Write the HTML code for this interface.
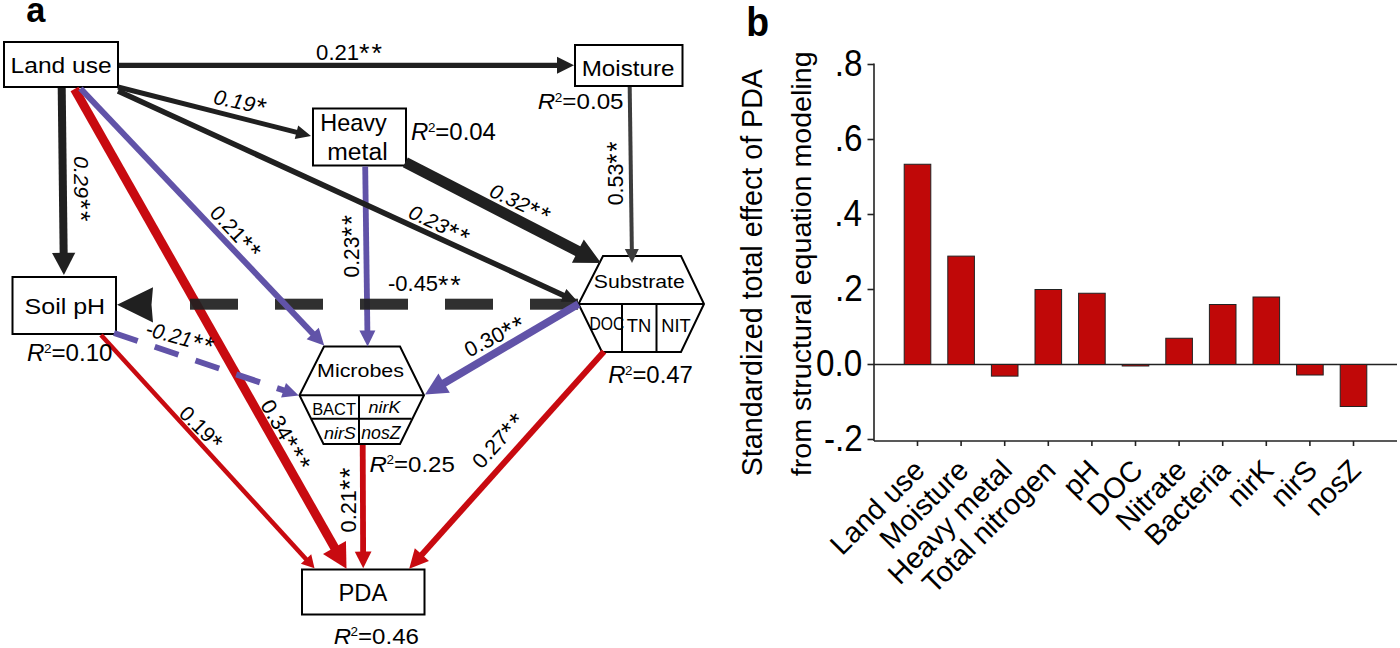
<!DOCTYPE html>
<html><head><meta charset="utf-8"><style>
html,body{margin:0;padding:0;background:#fff;}
svg{display:block;font-family:"Liberation Sans", sans-serif;}
</style></head><body>
<svg width="1400" height="648" viewBox="0 0 1400 648">
<rect width="1400" height="648" fill="#fff"/>
<text transform="translate(26.37,21.60) scale(0.9931,1)" font-size="34.60" font-weight="bold" fill="#000">a</text>
<rect x="4.0" y="42.0" width="114" height="45" fill="#fff" stroke="#000" stroke-width="2"/>
<rect x="575.0" y="45.0" width="107.5" height="41" fill="#fff" stroke="#000" stroke-width="2"/>
<rect x="313.0" y="108.5" width="93" height="57.0" fill="#fff" stroke="#000" stroke-width="2"/>
<rect x="12.5" y="277.0" width="103.5" height="57" fill="#fff" stroke="#000" stroke-width="2"/>
<rect x="302.0" y="569.5" width="122.5" height="45.0" fill="#fff" stroke="#000" stroke-width="2"/>
<polygon points="603,256 681,256 704,304 681,352 602,352 578.5,304" fill="#fff" stroke="#000" stroke-width="2" stroke-linejoin="miter"/>
<line x1="578.00" y1="304.00" x2="704.00" y2="304.00" stroke="#000" stroke-width="2"/>
<line x1="622.00" y1="304.00" x2="622.00" y2="352.00" stroke="#000" stroke-width="2"/>
<line x1="656.50" y1="304.00" x2="656.50" y2="352.00" stroke="#000" stroke-width="2"/>
<polygon points="324,346.5 400,346.5 424,395.3 400,444 323.5,444 299.5,395.3" fill="#fff" stroke="#000" stroke-width="2" stroke-linejoin="miter"/>
<line x1="299.50" y1="395.30" x2="424.00" y2="395.30" stroke="#000" stroke-width="2"/>
<line x1="311.50" y1="418.80" x2="411.50" y2="418.80" stroke="#000" stroke-width="2"/>
<line x1="359.00" y1="395.00" x2="359.00" y2="444.00" stroke="#000" stroke-width="2"/>
<line x1="74.50" y1="89.00" x2="335.20" y2="548.78" stroke="#c80a10" stroke-width="9"/>
<polygon points="346.50,568.70 322.98,553.99 334.46,547.47 345.95,540.96" fill="#c80a10"/>
<line x1="101.00" y1="335.00" x2="307.07" y2="560.19" stroke="#c80a10" stroke-width="4.6"/>
<polygon points="314.50,568.30 300.90,563.80 306.06,559.08 311.23,554.35" fill="#c80a10"/>
<line x1="362.70" y1="445.00" x2="363.14" y2="553.10" stroke="#c80a10" stroke-width="5.8"/>
<polygon points="363.20,568.30 354.78,551.63 363.13,551.60 371.48,551.57" fill="#c80a10"/>
<line x1="604.00" y1="351.50" x2="420.88" y2="555.67" stroke="#c80a10" stroke-width="6"/>
<polygon points="409.20,568.70 414.81,548.21 421.89,554.56 428.96,560.90" fill="#c80a10"/>
<line x1="365.20" y1="166.50" x2="367.41" y2="332.00" stroke="#6153a8" stroke-width="5.8"/>
<polygon points="367.60,346.50 359.39,330.61 367.39,330.50 375.39,330.39" fill="#6153a8"/>
<line x1="119.00" y1="65.30" x2="558.50" y2="65.30" stroke="#202020" stroke-width="5.3"/>
<polygon points="574.00,65.30 557.00,73.80 557.00,65.30 557.00,56.80" fill="#202020"/>
<line x1="118.00" y1="87.00" x2="297.92" y2="132.68" stroke="#202020" stroke-width="5"/>
<polygon points="311.00,136.00 294.74,139.09 296.46,132.31 298.18,125.52" fill="#202020"/>
<line x1="118.00" y1="91.00" x2="564.82" y2="295.95" stroke="#202020" stroke-width="5.5"/>
<polygon points="578.00,302.00 560.54,301.69 563.46,295.33 566.38,288.97" fill="#202020"/>
<line x1="405.30" y1="162.40" x2="579.21" y2="251.80" stroke="#202020" stroke-width="11"/>
<polygon points="601.00,263.00 571.93,262.68 577.88,251.11 583.82,239.55" fill="#202020"/>
<line x1="629.70" y1="87.00" x2="631.84" y2="250.50" stroke="#3d3d3d" stroke-width="4"/>
<polygon points="632.00,263.00 624.82,249.09 631.82,249.00 638.82,248.91" fill="#3d3d3d"/>
<line x1="61.70" y1="88.00" x2="63.66" y2="254.30" stroke="#202020" stroke-width="8"/>
<polygon points="63.90,275.00 51.99,252.94 63.64,252.80 75.29,252.66" fill="#202020"/>
<rect x="190" y="298.7" width="48" height="11" fill="#202020" fill-opacity="0.93"/>
<rect x="275" y="298.7" width="48" height="11" fill="#202020" fill-opacity="0.93"/>
<rect x="360" y="298.7" width="48" height="11" fill="#202020" fill-opacity="0.93"/>
<rect x="445" y="298.7" width="48" height="11" fill="#202020" fill-opacity="0.93"/>
<rect x="530" y="298.7" width="48" height="11" fill="#202020" fill-opacity="0.93"/>
<polygon points="117,304.8 153,287.3 151.5,304.8 153,322.5" fill="#202020"/>
<line x1="80.50" y1="88.50" x2="313.74" y2="334.57" stroke="#6153a8" stroke-width="6"/>
<polygon points="324.20,345.60 306.65,339.22 312.71,333.48 318.77,327.74" fill="#6153a8"/>
<line x1="114.00" y1="333.00" x2="284.96" y2="390.76" stroke="#6153a8" stroke-width="6" stroke-dasharray="25 18" stroke-dashoffset="0"/>
<polygon points="298.70,395.40 281.09,397.53 283.54,390.28 285.99,383.03" fill="#6153a8"/>
<line x1="578.50" y1="304.00" x2="442.84" y2="383.90" stroke="#6153a8" stroke-width="7.8"/>
<polygon points="425.00,394.40 438.45,373.48 444.13,383.13 449.81,392.79" fill="#6153a8"/>
<text transform="translate(10.57,73.00) scale(1.0865,1)" font-size="22.62" fill="#000">Land use</text>
<text transform="translate(581.70,76.10) scale(1.0696,1)" font-size="22.62" fill="#000">Moisture</text>
<text transform="translate(320.26,130.80) scale(0.9893,1)" font-size="23.71" fill="#000">Heavy</text>
<text transform="translate(327.33,160.00) scale(1.0107,1)" font-size="24.41" fill="#000">metal</text>
<text transform="translate(24.58,314.10) scale(1.0913,1)" font-size="22.90" fill="#000">Soil pH</text>
<text transform="translate(338.54,600.50) scale(1.0132,1)" font-size="23.42" fill="#000">PDA</text>
<text transform="translate(593.84,287.60) scale(1.1085,1)" font-size="19.17" fill="#000">Substrate</text>
<text transform="translate(589.51,329.80) scale(0.8974,1)" font-size="17.49" fill="#000">DOC</text>
<text transform="translate(626.79,331.50) scale(0.9967,1)" font-size="18.47" fill="#000">TN</text>
<text transform="translate(661.29,331.50) scale(0.9892,1)" font-size="18.47" fill="#000">NIT</text>
<text transform="translate(317.03,377.00) scale(1.1186,1)" font-size="19.17" fill="#000">Microbes</text>
<text transform="translate(312.14,415.40) scale(0.9582,1)" font-size="17.20" fill="#000">BACT</text>
<text transform="translate(368.59,413.30) scale(1.1393,1)" font-size="15.72" font-style="italic" fill="#000">nirK</text>
<text transform="translate(323.88,439.20) scale(1.0524,1)" font-size="17.10" font-style="italic" fill="#000">nirS</text>
<text transform="translate(361.19,439.20) scale(0.9835,1)" font-size="18.04" font-style="italic" fill="#000">nosZ</text>
<g transform="translate(537.87,108.90) scale(1.1158,1)" fill="#000"><text x="0" y="0" font-size="21.67" font-style="italic">R</text><text x="15.22" y="-7.15" font-size="12.14">2</text><text x="21.97" y="0" font-size="21.67">=0.05</text></g>
<g transform="translate(411.08,140.00) scale(1.0292,1)" fill="#000"><text x="0" y="0" font-size="23.27" font-style="italic">R</text><text x="16.34" y="-7.68" font-size="13.03">2</text><text x="23.59" y="0" font-size="23.27">=0.04</text></g>
<g transform="translate(26.98,361.00) scale(1.0180,1)" fill="#000"><text x="0" y="0" font-size="23.71" font-style="italic">R</text><text x="16.65" y="-7.82" font-size="13.28">2</text><text x="24.03" y="0" font-size="23.71">=0.10</text></g>
<g transform="translate(608.18,382.60) scale(1.0145,1)" fill="#000"><text x="0" y="0" font-size="23.56" font-style="italic">R</text><text x="16.55" y="-7.78" font-size="13.20">2</text><text x="23.89" y="0" font-size="23.56">=0.47</text></g>
<g transform="translate(369.58,471.90) scale(1.0675,1)" fill="#000"><text x="0" y="0" font-size="22.55" font-style="italic">R</text><text x="15.83" y="-7.44" font-size="12.63">2</text><text x="22.85" y="0" font-size="22.55">=0.25</text></g>
<g transform="translate(333.68,643.50) scale(1.1099,1)" fill="#000"><text x="0" y="0" font-size="21.67" font-style="italic">R</text><text x="15.22" y="-7.15" font-size="12.14">2</text><text x="21.97" y="0" font-size="21.67">=0.46</text></g>
<text transform="translate(316.12,59.90) scale(1.0216,1)" font-size="21.63" fill="#000">0.21<tspan font-size="1.22em" dy="0.098em" letter-spacing="0.066em">**</tspan></text>
<text transform="translate(213.30,103.60) rotate(12) scale(1.0166,1) translate(-0.90,0)" font-size="21.20" font-style="italic" fill="#000">0.19<tspan font-size="1.22em" dy="0.098em" letter-spacing="0.066em">*</tspan></text>
<text transform="translate(407.80,217.30) rotate(25.5) scale(1.0368,1) translate(-0.87,0)" font-size="20.49" font-style="italic" fill="#000">0.23<tspan font-size="1.22em" dy="0.098em" letter-spacing="0.066em">**</tspan></text>
<text transform="translate(488.70,196.10) rotate(25) scale(1.0368,1) translate(-0.87,0)" font-size="20.49" font-style="italic" fill="#000">0.32<tspan font-size="1.22em" dy="0.098em" letter-spacing="0.066em">**</tspan></text>
<text transform="translate(623.20,204.50) rotate(-90) scale(0.9724,1) translate(-0.88,0)" font-size="22.05" fill="#000">0.53<tspan font-size="1.22em" dy="0.098em" letter-spacing="0.066em">**</tspan></text>
<text transform="translate(74.30,156.80) rotate(90) scale(1.0351,1) translate(-0.89,0)" font-size="20.92" font-style="italic" fill="#000">0.29<tspan font-size="1.22em" dy="0.098em" letter-spacing="0.066em">**</tspan></text>
<text transform="translate(388.01,291.30) scale(1.0094,1)" font-size="21.77" fill="#000">-0.45<tspan font-size="1.22em" dy="0.098em" letter-spacing="0.066em">**</tspan></text>
<text transform="translate(209.20,214.30) rotate(47) scale(1.0032,1) translate(-0.85,0)" font-size="21.20" fill="#000">0.21<tspan font-size="1.22em" dy="0.098em" letter-spacing="0.066em">**</tspan></text>
<text transform="translate(358.50,276.60) rotate(-90) scale(0.9268,1) translate(-0.90,0)" font-size="22.61" fill="#000">0.23<tspan font-size="1.22em" dy="0.098em" letter-spacing="0.066em">**</tspan></text>
<text transform="translate(145.50,335.60) rotate(15) scale(0.9749,1) translate(-1.11,0)" font-size="21.20" font-style="italic" fill="#000">-0.21<tspan font-size="1.22em" dy="0.098em" letter-spacing="0.066em">**</tspan></text>
<text transform="translate(469.70,357.30) rotate(-27) scale(1.0194,1) translate(-0.85,0)" font-size="21.20" fill="#000">0.30<tspan font-size="1.22em" dy="0.098em" letter-spacing="0.066em">**</tspan></text>
<text transform="translate(178.30,415.40) rotate(45) scale(0.9982,1) translate(-0.85,0)" font-size="21.20" fill="#000">0.19<tspan font-size="1.22em" dy="0.098em" letter-spacing="0.066em">*</tspan></text>
<text transform="translate(260.30,405.70) rotate(60) scale(1.0330,1) translate(-0.85,0)" font-size="21.20" fill="#000">0.34<tspan font-size="1.22em" dy="0.098em" letter-spacing="0.066em">***</tspan></text>
<text transform="translate(355.90,531.60) rotate(-90) scale(0.9648,1) translate(-0.90,0)" font-size="22.61" fill="#000">0.21<tspan font-size="1.22em" dy="0.098em" letter-spacing="0.066em">**</tspan></text>
<text transform="translate(482.10,469.30) rotate(-48) scale(1.0356,1) translate(-0.85,0)" font-size="21.20" fill="#000">0.27<tspan font-size="1.22em" dy="0.098em" letter-spacing="0.066em">**</tspan></text>
<text transform="translate(746.17,36.00) scale(0.9105,1)" font-size="41.10" font-weight="bold" fill="#000">b</text>
<g stroke="#222" stroke-width="1.6">
<line x1="874" y1="63.5" x2="874" y2="441"/>
<line x1="874" y1="441" x2="1397" y2="441"/>
<line x1="874" y1="364.5" x2="1397" y2="364.5"/>
<line x1="867.5" y1="64.50" x2="874" y2="64.50"/>
<line x1="867.5" y1="139.50" x2="874" y2="139.50"/>
<line x1="867.5" y1="214.50" x2="874" y2="214.50"/>
<line x1="867.5" y1="289.50" x2="874" y2="289.50"/>
<line x1="867.5" y1="364.50" x2="874" y2="364.50"/>
<line x1="867.5" y1="439.50" x2="874" y2="439.50"/>
<line x1="917.50" y1="441" x2="917.50" y2="446"/>
<line x1="961.10" y1="441" x2="961.10" y2="446"/>
<line x1="1004.70" y1="441" x2="1004.70" y2="446"/>
<line x1="1048.30" y1="441" x2="1048.30" y2="446"/>
<line x1="1091.90" y1="441" x2="1091.90" y2="446"/>
<line x1="1135.50" y1="441" x2="1135.50" y2="446"/>
<line x1="1179.10" y1="441" x2="1179.10" y2="446"/>
<line x1="1222.70" y1="441" x2="1222.70" y2="446"/>
<line x1="1266.30" y1="441" x2="1266.30" y2="446"/>
<line x1="1309.90" y1="441" x2="1309.90" y2="446"/>
<line x1="1353.50" y1="441" x2="1353.50" y2="446"/>
</g>
<text transform="translate(834.70,76.10) scale(0.92,1)" font-size="36.18" fill="#000">.8</text>
<text transform="translate(834.70,151.10) scale(0.92,1)" font-size="36.18" fill="#000">.6</text>
<text transform="translate(834.20,226.10) scale(0.92,1)" font-size="36.18" fill="#000">.4</text>
<text transform="translate(834.95,301.10) scale(0.92,1)" font-size="36.18" fill="#000">.2</text>
<text transform="translate(815.98,376.10) scale(0.92,1)" font-size="36.18" fill="#000">0.0</text>
<text transform="translate(823.88,451.10) scale(0.92,1)" font-size="36.18" fill="#000">-.2</text>
<rect x="904.20" y="164.25" width="26.6" height="200.25" fill="#c00808" stroke="#222" stroke-width="1"/>
<text transform="translate(926.50,472) rotate(-45)" font-size="29" text-anchor="end" fill="#000">Land use</text>
<rect x="947.80" y="256.12" width="26.6" height="108.38" fill="#c00808" stroke="#222" stroke-width="1"/>
<text transform="translate(970.10,472) rotate(-45)" font-size="29" text-anchor="end" fill="#000">Moisture</text>
<rect x="991.40" y="364.50" width="26.6" height="11.62" fill="#c00808" stroke="#222" stroke-width="1"/>
<text transform="translate(1013.70,472) rotate(-45)" font-size="29" text-anchor="end" fill="#000">Heavy metal</text>
<rect x="1035.00" y="289.50" width="26.6" height="75.00" fill="#c00808" stroke="#222" stroke-width="1"/>
<text transform="translate(1057.30,472) rotate(-45)" font-size="29" text-anchor="end" fill="#000">Total nitrogen</text>
<rect x="1078.60" y="293.25" width="26.6" height="71.25" fill="#c00808" stroke="#222" stroke-width="1"/>
<text transform="translate(1100.90,472) rotate(-45)" font-size="29" text-anchor="end" fill="#000">pH</text>
<rect x="1122.20" y="364.50" width="26.6" height="1.50" fill="#c00808" stroke="#222" stroke-width="1"/>
<text transform="translate(1144.50,472) rotate(-45)" font-size="29" text-anchor="end" fill="#000">DOC</text>
<rect x="1165.80" y="338.25" width="26.6" height="26.25" fill="#c00808" stroke="#222" stroke-width="1"/>
<text transform="translate(1188.10,472) rotate(-45)" font-size="29" text-anchor="end" fill="#000">Nitrate</text>
<rect x="1209.40" y="304.50" width="26.6" height="60.00" fill="#c00808" stroke="#222" stroke-width="1"/>
<text transform="translate(1231.70,472) rotate(-45)" font-size="29" text-anchor="end" fill="#000">Bacteria</text>
<rect x="1253.00" y="297.00" width="26.6" height="67.50" fill="#c00808" stroke="#222" stroke-width="1"/>
<text transform="translate(1275.30,472) rotate(-45)" font-size="29" text-anchor="end" fill="#000">nirK</text>
<rect x="1296.60" y="364.50" width="26.6" height="10.50" fill="#c00808" stroke="#222" stroke-width="1"/>
<text transform="translate(1318.90,472) rotate(-45)" font-size="29" text-anchor="end" fill="#000">nirS</text>
<rect x="1340.20" y="364.50" width="26.6" height="42.00" fill="#c00808" stroke="#222" stroke-width="1"/>
<text transform="translate(1362.50,472) rotate(-45)" font-size="29" text-anchor="end" fill="#000">nosZ</text>
<text transform="translate(761.90,475.00) rotate(-90) scale(0.9957,1) translate(-1.30,0)" font-size="28.8" fill="#000">Standardized total effect of PDA</text>
<text transform="translate(811.40,475.70) rotate(-90) scale(1.0149,1) translate(-0.42,0)" font-size="28.2" fill="#000">from structural equation modeling</text>
</svg></body></html>
